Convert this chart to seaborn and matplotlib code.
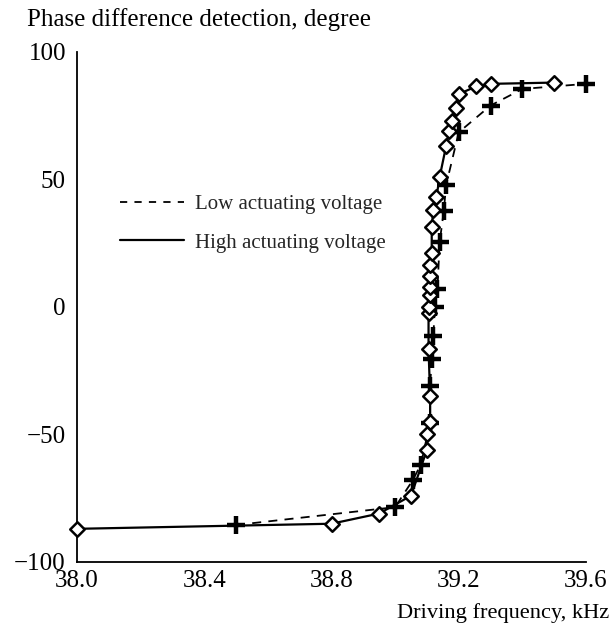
import matplotlib
matplotlib.use("Agg")
import matplotlib.pyplot as plt
from matplotlib.lines import Line2D
from matplotlib.ticker import MultipleLocator, FixedLocator
import seaborn as sns
import pandas as pd

# High actuating voltage (diamonds, solid line)
high_freq = [38.0, 38.8, 38.95, 39.05, 39.1, 39.1, 39.11, 39.11, 39.105, 39.105,
             39.105, 39.11, 39.11, 39.11, 39.11, 39.115, 39.115, 39.12, 39.13,
             39.14, 39.16, 39.17, 39.18, 39.19, 39.2, 39.255, 39.3, 39.5]
high_phase = [-87, -85, -81, -74, -56, -50, -45, -35, -16.5, -2.5,
              0, 4.7, 8, 12, 16.5, 21, 31.5, 38, 43.3,
              51, 63, 69, 73, 78, 83.5, 86.5, 87.5, 88]

# Low actuating voltage (crosses, dashed line)
low_freq = [38.5, 39.0, 39.055, 39.08, 39.11, 39.11, 39.115, 39.12, 39.125,
            39.133, 39.14, 39.153, 39.16, 39.2, 39.3, 39.4, 39.6]
low_phase = [-85.5, -78.5, -68, -62, -45.5, -31, -20.5, -11.4, 0,
             7, 25.6, 37.6, 47.7, 68.5, 79, 85.5, 87.5]

x_ticks = [38.0, 38.4, 38.8, 39.2, 39.6]
y_ticks = [-100, -50, 0, 50, 100]

sns.set_theme(style="white")
plt.rcParams['font.family'] = ['Liberation Serif', 'DejaVu Serif']

fig = plt.figure(figsize=(6.1, 6.24), dpi=100)
ax = fig.add_axes([0.1262, 0.0994, 0.8345, 0.8173])

df_high = pd.DataFrame({"f": high_freq, "p": high_phase})
df_low = pd.DataFrame({"f": low_freq, "p": low_phase})

sns.lineplot(data=df_low, x="f", y="p", sort=False, estimator=None, ax=ax,
             color="black", linewidth=1.3, linestyle=(0, (5, 4)), zorder=2)
sns.lineplot(data=df_high, x="f", y="p", sort=False, estimator=None, ax=ax,
             color="black", linewidth=1.6, zorder=2)
sns.scatterplot(data=df_low, x="f", y="p", ax=ax, marker="+", s=180,
                color="black", linewidth=3.2, zorder=3)
sns.scatterplot(data=df_high, x="f", y="p", ax=ax, marker="D", s=55,
                facecolor="white", edgecolor="black", linewidth=1.8, zorder=4)
for coll in ax.collections:
    coll.set_clip_on(False)

ax.set_xlim(38.0, 39.6)
ax.set_ylim(-100, 100)
ax.xaxis.set_major_locator(FixedLocator(x_ticks))
ax.xaxis.set_minor_locator(MultipleLocator(0.2))
ax.set_xticklabels([f"{t:.1f}" for t in x_ticks])
ax.yaxis.set_major_locator(FixedLocator(y_ticks))
ax.set_yticklabels([str(t).replace("-", "\u2212") for t in y_ticks])

ax.tick_params(axis="both", which="both", direction="in", length=8, width=1.2,
               labelsize=18, colors="black")
ax.tick_params(axis="x", which="major", pad=6)
ax.tick_params(axis="y", which="major", pad=8)

for s in ["top", "right"]:
    ax.spines[s].set_visible(False)
for s in ["left", "bottom"]:
    ax.spines[s].set_color("black")
    ax.spines[s].set_linewidth(1.3)

ax.set_xlabel("")
ax.set_ylabel("")
fig.text(0.9995, 0.002, "Driving frequency, kHz", ha="right", va="bottom",
         fontsize=16.1, color="black")
fig.text(0.045, 0.951, "Phase difference detection, degree", ha="left",
         va="bottom", fontsize=18, color="black")

handles = [Line2D([], [], color="black", linewidth=1.3, linestyle=(0, (4, 4))),
           Line2D([], [], color="black", linewidth=1.6)]
fig.legend(handles, ["Low actuating voltage", "High actuating voltage"],
           loc="upper left", bbox_to_anchor=(0.196, 0.688), frameon=False,
           fontsize=15, handlelength=3.1, handletextpad=0.5, labelspacing=0.9,
           borderaxespad=0, borderpad=0)

fig.savefig("out.png", dpi=100, facecolor="white")
